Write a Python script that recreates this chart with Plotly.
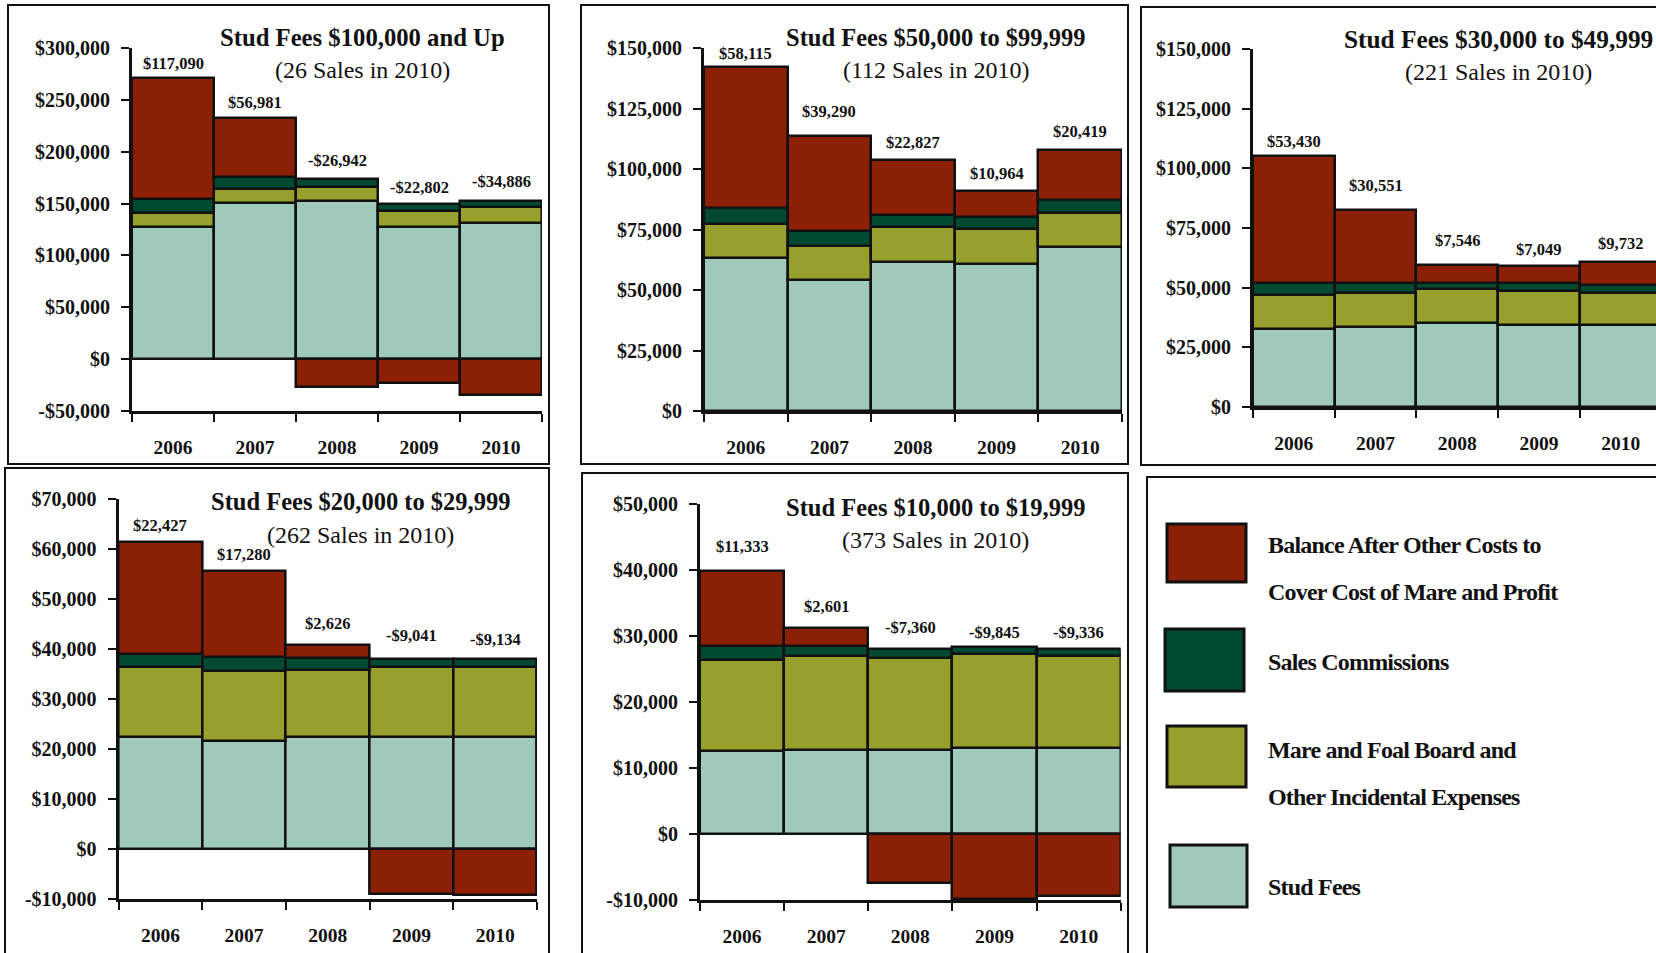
import plotly.graph_objects as go

# ---------------------------------------------------------------- data
years = ["2006", "2007", "2008", "2009", "2010"]

legend_rows = [
    ["Balance After Other Costs to", "Cover Cost of Mare and Profit"],
    ["Sales Commissions"],
    ["Mare and Foal Board and", "Other Incidental Expenses"],
    ["Stud Fees"],
]

# Stud fees $100,000 and up
fees_100k = [127000, 150500, 152700, 127000, 131200]
board_100k = [13500, 13500, 12900, 16100, 15400]
comm_100k = [13800, 11900, 8400, 6100, 6100]
balance_100k = [117090, 56981, -26942, -22802, -34886]

# Stud fees $50,000 to $99,999
fees_50k = [63360, 54270, 61570, 60880, 67630]
board_50k = [13770, 14050, 14460, 14190, 14190]
comm_50k = [6890, 6060, 4820, 4960, 5510]
balance_50k = [58115, 39290, 22827, 10964, 20419]

# Stud fees $30,000 to $49,999
fees_30k = [32710, 33550, 35370, 34250, 34530]
board_30k = [14120, 14260, 13980, 14540, 13280]
comm_30k = [5040, 4060, 2520, 3080, 3360]
balance_30k = [53430, 30551, 7546, 7049, 9732]

# Stud fees $20,000 to $29,999
fees_20k = [22330, 21670, 22330, 22330, 22330]
board_20k = [14000, 13870, 13530, 14000, 14000]
comm_20k = [2740, 2800, 2400, 1670, 1670]
balance_20k = [22427, 17280, 2626, -9041, -9134]

# Stud fees $10,000 to $19,999
fees_10k = [12530, 12780, 12780, 13030, 13030]
board_10k = [13890, 14200, 13940, 14250, 13950]
comm_10k = [2130, 1570, 1320, 1020, 1060]
balance_10k = [11333, 2601, -7360, -9845, -9336]

ticks_100k = [-50000, 0, 50000, 100000, 150000, 200000, 250000, 300000]
ticklabels_100k = ["-$50,000", "$0", "$50,000", "$100,000", "$150,000",
                   "$200,000", "$250,000", "$300,000"]
ticks_150k = [0, 25000, 50000, 75000, 100000, 125000, 150000]
ticklabels_150k = ["$0", "$25,000", "$50,000", "$75,000", "$100,000",
                   "$125,000", "$150,000"]
ticks_70k = [-10000, 0, 10000, 20000, 30000, 40000, 50000, 60000, 70000]
ticklabels_70k = ["-$10,000", "$0", "$10,000", "$20,000", "$30,000",
                  "$40,000", "$50,000", "$60,000", "$70,000"]
ticks_50k = [-10000, 0, 10000, 20000, 30000, 40000, 50000]
ticklabels_50k = ["-$10,000", "$0", "$10,000", "$20,000", "$30,000",
                  "$40,000", "$50,000"]

# ---------------------------------------------------------------- style
W, H = 1656, 953
FONT = "Liberation Serif"
INK = "#111111"
colors = ["#8B2006", "#004A31", "#979F2D", "#9FC9BB"]  # balance, comm, board, fees


def fx(x):
    return x / W


def fy(y):
    return 1 - y / H


def money(v):
    return ("-$" if v < 0 else "$") + f"{abs(v):,}"


panels = [
    dict(title="Stud Fees $100,000 and Up", sub="(26 Sales in 2010)",
         series=(fees_100k, board_100k, comm_100k, balance_100k),
         yrange=[-50000, 300000], tv=ticks_100k, tt=ticklabels_100k,
         box=(8, 5, 549, 464), plot=(132, 48, 542, 411),
         head=(362, 38, 70), tsize=24.7, xmax=4.5,
         lift=[3, 4, 7, 5, 8]),
    dict(title="Stud Fees $50,000 to $99,999", sub="(112 Sales in 2010)",
         series=(fees_50k, board_50k, comm_50k, balance_50k),
         yrange=[0, 150000], tv=ticks_150k, tt=ticklabels_150k,
         box=(581, 5, 1128, 464), plot=(704, 48, 1122, 411),
         head=(936, 37, 70), tsize=24.5, xmax=4.5,
         lift=[2, 13, 6, 6, 7]),
    dict(title="Stud Fees $30,000 to $49,999", sub="(221 Sales in 2010)",
         series=(fees_30k, board_30k, comm_30k, balance_30k),
         yrange=[0, 150000], tv=ticks_150k, tt=ticklabels_150k,
         box=(1141, 7, 1700, 465), plot=(1253, 49, 1656, 407),
         head=(1498, 39, 72), tsize=25.3, xmax=-0.5 + (1656 - 1253) / 81.7,
         lift=[3, 13, 13, 5, 7]),
    dict(title="Stud Fees $20,000 to $29,999", sub="(262 Sales in 2010)",
         series=(fees_20k, board_20k, comm_20k, balance_20k),
         yrange=[-10000, 70000], tv=ticks_70k, tt=ticklabels_70k,
         box=(5, 468, 549, 1000), plot=(118.6, 499, 537, 899),
         head=(360, 502, 535), tsize=24.5, xmax=4.5,
         lift=[5, 5, 10, 12, 8]),
    dict(title="Stud Fees $10,000 to $19,999", sub="(373 Sales in 2010)",
         series=(fees_10k, board_10k, comm_10k, balance_10k),
         yrange=[-10000, 50000], tv=ticks_50k, tt=ticklabels_50k,
         box=(582, 473, 1128, 1000), plot=(700, 504, 1120.7, 900),
         head=(935.5, 508, 540), tsize=24.5, xmax=4.5,
         lift=[13, 10, 10, 3, 5]),
]

fig = go.Figure()
shapes = []
annotations = []
layout_axes = {}

# stack order bottom-up: fees, board, commissions, balance
stack_names = [" ".join(legend_rows[3]), " ".join(legend_rows[2]),
               " ".join(legend_rows[1]), " ".join(legend_rows[0])]
stack_colors = [colors[3], colors[2], colors[1], colors[0]]

for i, p in enumerate(panels, start=1):
    xa = "x" if i == 1 else f"x{i}"
    ya = "y" if i == 1 else f"y{i}"
    for name, vals, col in zip(stack_names, p["series"], stack_colors):
        fig.add_trace(go.Bar(
            x=years, y=vals, name=name, xaxis=xa, yaxis=ya,
            marker=dict(color=col, line=dict(color=INK, width=2.5)),
            showlegend=False, hoverinfo="skip",
        ))

    x0, y0, x1, y1 = p["plot"]
    layout_axes["xaxis" if i == 1 else f"xaxis{i}"] = dict(
        domain=[fx(x0), fx(x1)], anchor=ya, type="category",
        range=[-0.5, p["xmax"]], tickson="boundaries",
        showline=True, linecolor=INK, linewidth=3,
        ticks="outside", ticklen=8, tickwidth=2, tickcolor=INK,
        tickfont=dict(family=FONT, size=19.5, color=INK, weight="bold"),
        ticklabelstandoff=17, showgrid=False, fixedrange=True,
        automargin=False,
    )
    layout_axes["yaxis" if i == 1 else f"yaxis{i}"] = dict(
        domain=[fy(y1), fy(y0)], anchor=xa, range=p["yrange"],
        tickvals=p["tv"], ticktext=p["tt"],
        showline=True, linecolor=INK, linewidth=3,
        ticks="outside", ticklen=8, tickwidth=2, tickcolor=INK,
        tickfont=dict(family=FONT, size=20, color=INK, weight="bold"),
        ticklabelstandoff=7, showgrid=False, zeroline=False, fixedrange=True,
        automargin=False,
    )

    # panel frame
    bx0, by0, bx1, by1 = p["box"]
    shapes.append(dict(type="rect", xref="paper", yref="paper",
                       x0=fx(bx0), x1=fx(bx1), y0=fy(by1), y1=fy(by0),
                       line=dict(color=INK, width=2), layer="below"))

    # headings
    hx, ht, hs = p["head"]
    annotations.append(dict(x=fx(hx), y=fy(ht), xref="paper", yref="paper",
                            text=p["title"], showarrow=False,
                            xanchor="center", yanchor="middle",
                            font=dict(family=FONT, size=p["tsize"], color=INK,
                                      weight="bold")))
    annotations.append(dict(x=fx(hx), y=fy(hs), xref="paper", yref="paper",
                            text=p["sub"], showarrow=False,
                            xanchor="center", yanchor="middle",
                            font=dict(family=FONT, size=24, color=INK)))

    # balance value above each column
    fees, board, comm, bal = p["series"]
    for k in range(len(years)):
        top = fees[k] + board[k] + comm[k] + max(bal[k], 0)
        annotations.append(dict(x=k, y=top, xref=xa, yref=ya,
                                text=money(bal[k]), showarrow=False,
                                xanchor="center", yanchor="bottom",
                                yshift=p["lift"][k],
                                font=dict(family=FONT, size=16.5, color=INK,
                                          weight="bold")))

# legend panel
shapes.append(dict(type="rect", xref="paper", yref="paper",
                   x0=fx(1147), x1=fx(1700), y0=fy(1000), y1=fy(477),
                   line=dict(color=INK, width=2), layer="below"))
swatches = [(1167, 524, 1246, 582), (1165, 629, 1244, 691),
            (1167, 726, 1246, 787), (1170, 845, 1247, 907)]
text_rows = [[545, 592], [662], [750, 797], [887]]
for (sx0, sy0, sx1, sy1), col, lines, ys in zip(swatches, colors,
                                                legend_rows, text_rows):
    shapes.append(dict(type="rect", xref="paper", yref="paper",
                       x0=fx(sx0), x1=fx(sx1), y0=fy(sy1), y1=fy(sy0),
                       fillcolor=col, line=dict(color=INK, width=3)))
    for line, ly in zip(lines, ys):
        annotations.append(dict(
            x=fx(1266), y=fy(ly), xref="paper", yref="paper",
            text=f'<span style="letter-spacing:-0.8px">{line}</span>',
            showarrow=False, xanchor="left", yanchor="middle",
            font=dict(family=FONT, size=24, color=INK, weight="bold")))

fig.update_layout(
    width=W, height=H,
    margin=dict(l=0, r=0, t=0, b=0, autoexpand=False),
    paper_bgcolor="white", plot_bgcolor="white",
    barmode="relative", bargap=0,
    showlegend=False, hovermode=False,
    shapes=shapes, annotations=annotations,
    **layout_axes,
)

fig.write_html("out.html")
